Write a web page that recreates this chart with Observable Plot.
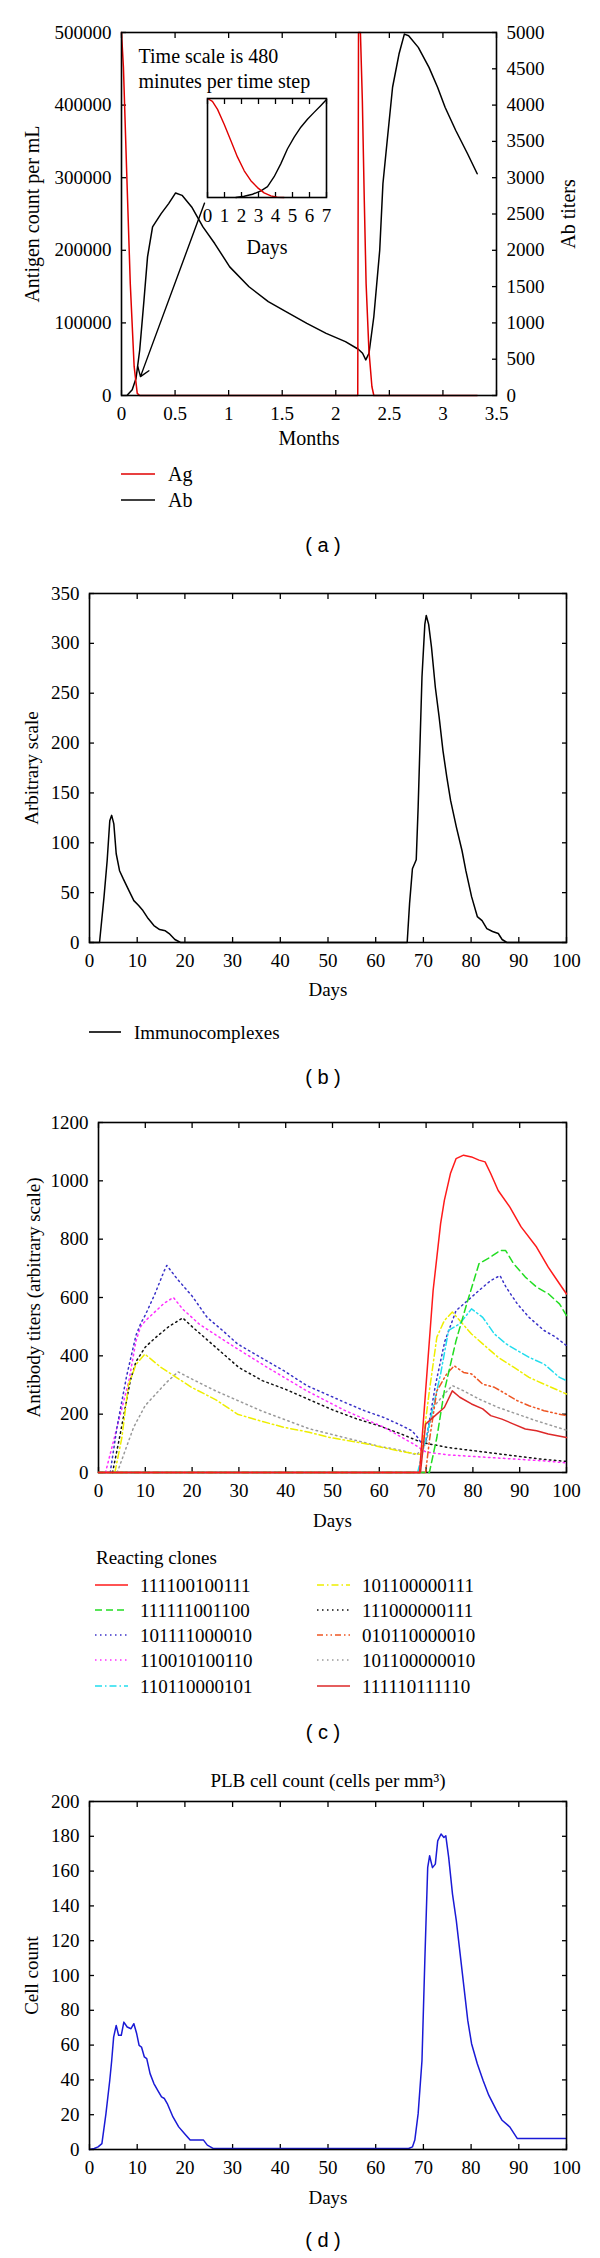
<!DOCTYPE html>
<html><head><meta charset="utf-8">
<script src="https://cdn.jsdelivr.net/npm/d3@7"></script>
<script src="https://cdn.jsdelivr.net/npm/@observablehq/plot@0.6"></script>
<style>
body{margin:0;background:#fff;}
#root{position:relative;width:600px;height:2258px;background:#fff;overflow:hidden;}
</style></head><body><div id="root"></div>
<script>
// ---------- Panel (a): antigen (per mL) and antibody titers vs months ----------
const agMonths = [[0,500000],[0.018,452000],[0.047,314000],[0.082,154000],[0.118,40000],[0.147,3000],[0.17,0],[2.205,0],[2.212,500000],[2.23,500000],[2.248,406000],[2.266,269000],[2.283,154000],[2.309,62700],[2.337,12400],[2.355,0],[3.32,0]];
const abMonths = [[0.05,0],[0.1,78],[0.136,238],[0.17,627],[0.21,1315],[0.243,1910],[0.29,2322],[0.37,2505],[0.44,2643],[0.505,2790],[0.565,2757],[0.655,2597],[0.76,2322],[0.87,2093],[1.01,1772],[1.19,1498],[1.37,1292],[1.51,1177],[1.73,994],[1.91,856],[2.09,742],[2.21,637],[2.25,582],[2.28,490],[2.31,582],[2.355,1085],[2.41,2000],[2.44,2917],[2.48,3513],[2.53,4246],[2.59,4703],[2.64,4978],[2.68,4955],[2.77,4795],[2.87,4520],[2.95,4246],[3.02,3971],[3.12,3650],[3.23,3330],[3.32,3055]];
const monthTicks = [0,0.5,1,1.5,2,2.5,3,3.5];
const agTicks = [0,100000,200000,300000,400000,500000];
const abTicks = [0,500,1000,1500,2000,2500,3000,3500,4000,4500,5000];
const noteLines = ["Time scale is 480", "minutes per time step"];
const arrowPts = [[0.775, 265000, 0.177, 26000]];
// inset (first week, days, relative level)
const insetAg = [[0,1],[0.29,0.97],[0.59,0.89],[0.98,0.74],[1.37,0.575],[1.76,0.41],[2.16,0.27],[2.55,0.17],[2.94,0.10],[3.33,0.047],[3.73,0.017],[4.1,0.003],[4.5,0]];
const insetAb = [[1.67,0],[2.16,0.013],[2.65,0.033],[3.14,0.067],[3.53,0.11],[3.92,0.21],[4.31,0.34],[4.7,0.49],[5.1,0.61],[5.49,0.71],[5.88,0.79],[6.27,0.86],[6.67,0.93],[7,0.99]];
const insetDayTicks = [0,1,2,3,4,5,6,7];

// ---------- Panel (b): immunocomplexes ----------
const immuno = [[0,0],[2.1,0],[3.05,46],[3.7,82],[4.25,122],[4.65,127.5],[5.1,119],[5.6,89],[6.3,72],[7.06,64],[8.27,52],[9.3,42],[10.3,37],[11.2,32],[12.3,24],[13.5,17],[14.7,13],[15.9,11.7],[16.7,9],[17.9,3],[19.1,0],[66.6,0],[67.1,39],[67.7,74],[68.5,83],[68.9,136],[69.7,266],[70.3,319],[70.6,328],[71.1,319],[71.7,296],[72.5,256],[73.3,226],[74.1,192.5],[74.9,166],[75.7,142.5],[76.9,116],[78.1,92],[78.9,72],[80.1,46],[81.3,26],[82.3,22],[83.3,14],[84.5,11],[85.7,9],[86.5,3],[87.5,0],[100,0]];
const dayTicks = [0,10,20,30,40,50,60,70,80,90,100];
const immunoTicks = [0,50,100,150,200,250,300,350];

// ---------- Panel (c): antibody titers of reacting clones ----------
const cloneNames = ["111100100111","111111001100","101111000010","110010100110","110110000101","101100000111","111000000111","010110000010","101100000010","111110111110"];
const clone1 = [[0,0],[68.6,0],[69.9,280],[71.5,624],[73.1,853],[73.9,933],[75.2,1025],[76.4,1076],[78,1088],[79.7,1082],[81.3,1071],[82.6,1065],[83.8,1025],[85.4,967],[87.9,910],[90.3,842],[93.6,773],[96.1,704],[98.5,647],[100,612]];
const clone2 = [[0,0],[70.7,0],[72.3,120],[73.9,280],[76.4,452],[78.9,590],[81.3,716],[83.8,739],[85.8,761],[87,761],[88.7,716],[91.2,670],[93.6,636],[96.1,613],[98.5,578],[100,538]];
const clone3 = [[2.5,0],[4,160],[6,330],[8,470],[9,510],[10,540],[12,610],[14,690],[14.6,710],[17,660],[20,605],[23.2,532],[26.5,487],[29.7,441],[34.6,395],[39.6,349],[44.5,298],[48.6,269],[52.7,240],[56.8,212],[60.9,189],[64.1,166],[67,143],[68.2,120],[69,100],[70,110],[72,300],[74,450],[76.4,555],[78.9,590],[81.3,624],[83.8,658],[85.8,675],[87.1,635],[89.5,578],[92,532],[95.2,487],[97.7,464],[100,435]];
const clone4 = [[1.5,0],[3,95],[5,220],[6.5,315],[8,450],[9,500],[10,520],[12,550],[14,580],[16,600],[18,560],[21.5,509],[28,441],[36,361],[44.5,280],[52.7,212],[61,155],[67.4,97],[69,80],[70,70],[75,60],[80,55],[85,50],[90,45],[95,40],[100,33]];
const clone5 = [[0,0],[68.2,0],[70.7,166],[73.1,338],[74.8,487],[77.2,510],[79.7,561],[82.1,532],[84.6,475],[87.1,441],[89.5,418],[92,395],[95.2,372],[98.5,326],[100,315]];
const clone6 = [[3.5,0],[5,120],[6.4,300],[8,370],[9.9,406],[13.3,361],[19.9,292],[25,250],[29.7,200],[35,175],[39.6,155],[45,138],[49.4,120],[57.6,97],[64.1,74],[68.2,63],[69,63],[70.7,280],[72.3,464],[73.9,521],[75.6,550],[77.2,521],[79.7,475],[82.1,441],[85.4,395],[88.7,361],[92,326],[95.2,303],[100,269]];
const clone7 = [[3,0],[4.5,120],[6.8,315],[8,380],[10,430],[12,460],[15,500],[18,530],[20,500],[25,430],[30,360],[35,315],[40,285],[45,250],[50,215],[55,185],[60,160],[65,130],[68,110],[70,100],[75,85],[80,75],[85,65],[90,55],[95,45],[100,38]];
const clone8 = [[0,0],[69.9,0],[70.7,109],[72.3,280],[74.4,338],[76,366],[78,343],[79.7,338],[82.1,303],[84.6,292],[87.1,269],[89.5,246],[92,229],[95.2,212],[98.5,200],[100,195]];
const clone9 = [[4,0],[7.5,155],[10,230],[14.6,310],[17,345],[20,320],[25,280],[30,245],[35,210],[40,180],[45,150],[50,130],[55,110],[60,90],[65,75],[68,60],[70,100],[71.5,223],[73.9,269],[75.6,298],[78,280],[81.3,252],[85.4,223],[89.5,200],[93.6,177],[100,145]];
const clone10 = [[0,0],[68.8,0],[69.9,166],[71.5,189],[73.9,223],[75.6,280],[77.2,258],[79.7,235],[82.1,218],[83.8,195],[86.2,183],[88.7,166],[91.2,149],[93.6,143],[96.1,132],[100,120]];
const titerTicks = [0,200,400,600,800,1000,1200];

// ---------- Panel (d): PLB cell count ----------
const plb = [[0,0],[1,0.6],[1.8,1.5],[2.6,3.4],[3.45,20.6],[4.25,39.8],[4.65,51],[5.06,64.6],[5.6,71.3],[6.1,65.6],[6.66,65.6],[7.2,73.2],[7.9,70.4],[8.7,69.4],[9.3,72.3],[9.9,66.5],[10.4,59.8],[10.9,58.9],[11.5,53.2],[12,52.2],[12.7,43.6],[13.5,37.9],[14.3,34],[15.1,30.2],[15.7,29.3],[16.3,26.4],[17.5,18.7],[18.7,13],[19.9,9.2],[21.1,5.4],[23.9,5.4],[24.7,2.5],[25.9,0.6],[66.9,0.6],[67.7,1.5],[68.2,5.4],[68.9,20.6],[69.7,51],[70.3,108.6],[70.9,162],[71.3,168.8],[71.9,162],[72.5,164],[73,177.4],[73.7,181.3],[74.3,179.3],[74.7,180.3],[75.3,167.9],[76.1,146.8],[76.9,131.5],[77.7,112.4],[78.5,93.3],[79.3,74.2],[80.1,60.8],[81.3,49.3],[82.5,39.8],[83.7,31.2],[85.3,22.6],[86.5,16.8],[88.1,13],[89.7,6.3],[99.8,6.3]];
const cellTicks = [0,20,40,60,80,100,120,140,160,180,200];

// ---------- styling (kept apart from data) ----------
const SERIF = "'Liberation Serif','Times New Roman',serif";
const SANS = "'Liberation Sans',Arial,sans-serif";
const cloneStyles = [
  {stroke:"#ff1a1a", dash:null},
  {stroke:"#22dd22", dash:"7,4"},
  {stroke:"#3a32c8", dash:"1.5,3.5"},
  {stroke:"#ff2eff", dash:"1.5,3.5"},
  {stroke:"#22ddee", dash:"7,3,1.5,3"},
  {stroke:"#eeee00", dash:"7,3,1.5,3"},
  {stroke:"#111111", dash:"1.5,3.5"},
  {stroke:"#ee5522", dash:"6,3,1.5,3,1.5,3"},
  {stroke:"#9a9a9a", dash:"1.5,3.5"},
  {stroke:"#dd2828", dash:null}
];
const cloneSeries = [clone1,clone2,clone3,clone4,clone5,clone6,clone7,clone8,clone9,clone10];

const root = document.getElementById("root");
function place(svg, top, left = 0) {
  svg.style.position = "absolute";
  svg.style.top = top + "px";
  svg.style.left = left + "px";
  root.appendChild(svg);
}
const baseStyle = {fontFamily: SERIF, fontSize: "19px", background: "transparent", color: "black", overflow: "visible"};
const str = d => String(d);
function boxAxes(xTicks, yTicks, xFmt = str, yFmt = str) {
  return [
    Plot.axisX(xTicks, {anchor: "bottom", tickSize: -5, tickPadding: 16, tickFormat: xFmt, label: null, strokeWidth: 1.3}),
    Plot.axisX(xTicks, {anchor: "top", tickSize: -5, tickFormat: () => "", label: null, strokeWidth: 1.3}),
    Plot.axisY(yTicks, {anchor: "left", tickSize: -5, tickPadding: 15, tickFormat: yFmt, label: null, strokeWidth: 1.3}),
    Plot.axisY(yTicks, {anchor: "right", tickSize: -5, tickFormat: () => "", label: null, strokeWidth: 1.3})
  ];
}
function yTitle(text, dx, fs = 19) {
  return Plot.text([text], {frameAnchor: dx < 0 ? "left" : "right", dx, rotate: -90, fontSize: fs, textAnchor: "middle", lineAnchor: "middle"});
}
const X = d => d[0], Y = d => d[1];

// ---- (a) main ----
const chartA = Plot.plot({
  width: 600, height: 455,
  marginTop: 32, marginLeft: 121, marginRight: 104, marginBottom: 60,
  x: {domain: [0, 3.5]}, y: {domain: [0, 500000]},
  style: baseStyle,
  marks: [
    Plot.axisX(monthTicks, {anchor: "bottom", tickSize: -5, tickPadding: 16, tickFormat: str, label: null, strokeWidth: 1.3}),
    Plot.axisX(monthTicks, {anchor: "top", tickSize: -5, tickFormat: () => "", label: null, strokeWidth: 1.3}),
    Plot.axisY(agTicks, {anchor: "left", tickSize: -5, tickPadding: 15, tickFormat: str, label: null, strokeWidth: 1.3}),
    Plot.axisY(abTicks.map(v => v * 100), {anchor: "right", tickSize: -5, tickPadding: 15, tickFormat: v => String(v / 100), label: null, strokeWidth: 1.3}),
    Plot.line(abMonths, {x: X, y: d => d[1] * 100, stroke: "black", strokeWidth: 1.5}),
    Plot.line(agMonths, {x: X, y: Y, stroke: "#e00000", strokeWidth: 1.5}),
    Plot.arrow(arrowPts, {x1: d => d[0], y1: d => d[1], x2: d => d[2], y2: d => d[3], stroke: "black", strokeWidth: 1.4, headLength: 11, headAngle: 70}),
    Plot.text([noteLines.join("\n")], {frameAnchor: "top-left", dx: 17, dy: 13, textAnchor: "start", lineAnchor: "top", lineHeight: 1.25, fontSize: 20}),
    yTitle("Antigen count per mL", -89, 20),
    yTitle("Ab titers", 72, 20),
    Plot.text(["Months"], {frameAnchor: "bottom", dy: 43, fontSize: 20, lineAnchor: "middle"}),
    Plot.frame({stroke: "black", strokeWidth: 1.6})
  ]
});
place(chartA, 0);

// ---- (a) inset ----
const inset = Plot.plot({
  width: 170, height: 177,
  marginTop: 8, marginLeft: 27, marginRight: 24, marginBottom: 70,
  x: {domain: [0, 7]}, y: {domain: [0, 1], axis: null},
  style: baseStyle,
  marks: [
    Plot.axisX(insetDayTicks, {anchor: "bottom", tickSize: -5, tickPadding: 16, tickFormat: str, label: null, strokeWidth: 1.3}),
    Plot.axisX(insetDayTicks, {anchor: "top", tickSize: -5, tickFormat: () => "", label: null, strokeWidth: 1.3}),
    Plot.line(insetAb, {x: X, y: Y, stroke: "black", strokeWidth: 1.4}),
    Plot.line(insetAg, {x: X, y: Y, stroke: "#e00000", strokeWidth: 1.4}),
    Plot.text(["Days"], {frameAnchor: "bottom", dy: 50, fontSize: 20, lineAnchor: "middle"}),
    Plot.frame({stroke: "black", strokeWidth: 1.6})
  ]
});
place(inset, 90, 180);

// ---- (b) ----
const chartB = Plot.plot({
  width: 600, height: 442,
  marginTop: 33, marginLeft: 89, marginRight: 34, marginBottom: 60,
  x: {domain: [0, 100]}, y: {domain: [0, 350]},
  style: baseStyle,
  marks: [
    ...boxAxes(dayTicks, immunoTicks),
    Plot.line(immuno, {x: X, y: Y, stroke: "black", strokeWidth: 1.5}),
    yTitle("Arbitrary scale", -58),
    Plot.text(["Days"], {frameAnchor: "bottom", dy: 47, fontSize: 19, lineAnchor: "middle"}),
    Plot.frame({stroke: "black", strokeWidth: 1.6})
  ]
});
place(chartB, 560);

// ---- (c) ----
const chartC = Plot.plot({
  width: 600, height: 432,
  marginTop: 22, marginLeft: 98, marginRight: 34, marginBottom: 60,
  x: {domain: [0, 100]}, y: {domain: [0, 1200]},
  style: baseStyle,
  marks: [
    Plot.frame({stroke: "black", strokeWidth: 1.6}),
    ...boxAxes(dayTicks, titerTicks),
    ...[8, 6, 3, 2, 5, 4, 7, 1, 9, 0].map(i =>
      Plot.line(cloneSeries[i], {x: X, y: Y, stroke: cloneStyles[i].stroke, strokeWidth: 1.5, strokeDasharray: cloneStyles[i].dash})),
    yTitle("Antibody titers (arbitrary scale)", -65),
    Plot.text(["Days"], {frameAnchor: "bottom", dy: 48, fontSize: 19, lineAnchor: "middle"})
  ]
});
place(chartC, 1100);

// ---- (d) ----
const chartD = Plot.plot({
  width: 600, height: 449,
  marginTop: 41, marginLeft: 89, marginRight: 34, marginBottom: 60,
  x: {domain: [0, 100]}, y: {domain: [0, 200]},
  style: baseStyle,
  marks: [
    ...boxAxes(dayTicks, cellTicks),
    Plot.line(plb, {x: X, y: Y, stroke: "#1a1ad6", strokeWidth: 1.5}),
    Plot.text(["PLB cell count (cells per mm³)"], {frameAnchor: "top", dy: -21, fontSize: 19, lineAnchor: "middle"}),
    yTitle("Cell count", -58),
    Plot.text(["Days"], {frameAnchor: "bottom", dy: 48, fontSize: 19, lineAnchor: "middle"}),
    Plot.frame({stroke: "black", strokeWidth: 1.6})
  ]
});
place(chartD, 1760);

// ---- legends and panel letters (overlay) ----
const ov = d3.create("svg").attr("width", 600).attr("height", 2258)
  .style("position", "absolute").style("top", "0px").style("left", "0px")
  .attr("font-family", SERIF).attr("font-size", 19);
function legendItem(x1, x2, tx, y, label, stroke, dash, fs = 19) {
  ov.append("line").attr("x1", x1).attr("x2", x2).attr("y1", y).attr("y2", y)
    .attr("stroke", stroke).attr("stroke-width", 1.6).attr("stroke-dasharray", dash);
  ov.append("text").attr("x", tx).attr("y", y).attr("dominant-baseline", "central")
    .attr("font-size", fs).text(label);
}
legendItem(121, 155, 168, 474, "Ag", "#e00000", null, 20);
legendItem(121, 155, 168, 500, "Ab", "black", null, 20);
legendItem(89, 121, 134, 1032, "Immunocomplexes", "black", null, 19);
ov.append("text").attr("x", 96).attr("y", 1557).attr("dominant-baseline", "central").text("Reacting clones");
const rowY = [1585, 1610, 1635, 1660, 1686];
cloneNames.forEach((name, i) => {
  const col = Math.floor(i / 5), row = i % 5;
  const x1 = col ? 317 : 95;
  legendItem(x1, x1 + 33, x1 + 45, rowY[row], name, cloneStyles[i].stroke, cloneStyles[i].dash);
});
[["( a )", 545], ["( b )", 1077], ["( c )", 1732], ["( d )", 2240]].forEach(([t, y]) => {
  ov.append("text").attr("x", 323).attr("y", y).attr("text-anchor", "middle")
    .attr("dominant-baseline", "central").attr("font-family", SANS).attr("font-size", 20).text(t);
});
root.appendChild(ov.node());
</script>
</body></html>
